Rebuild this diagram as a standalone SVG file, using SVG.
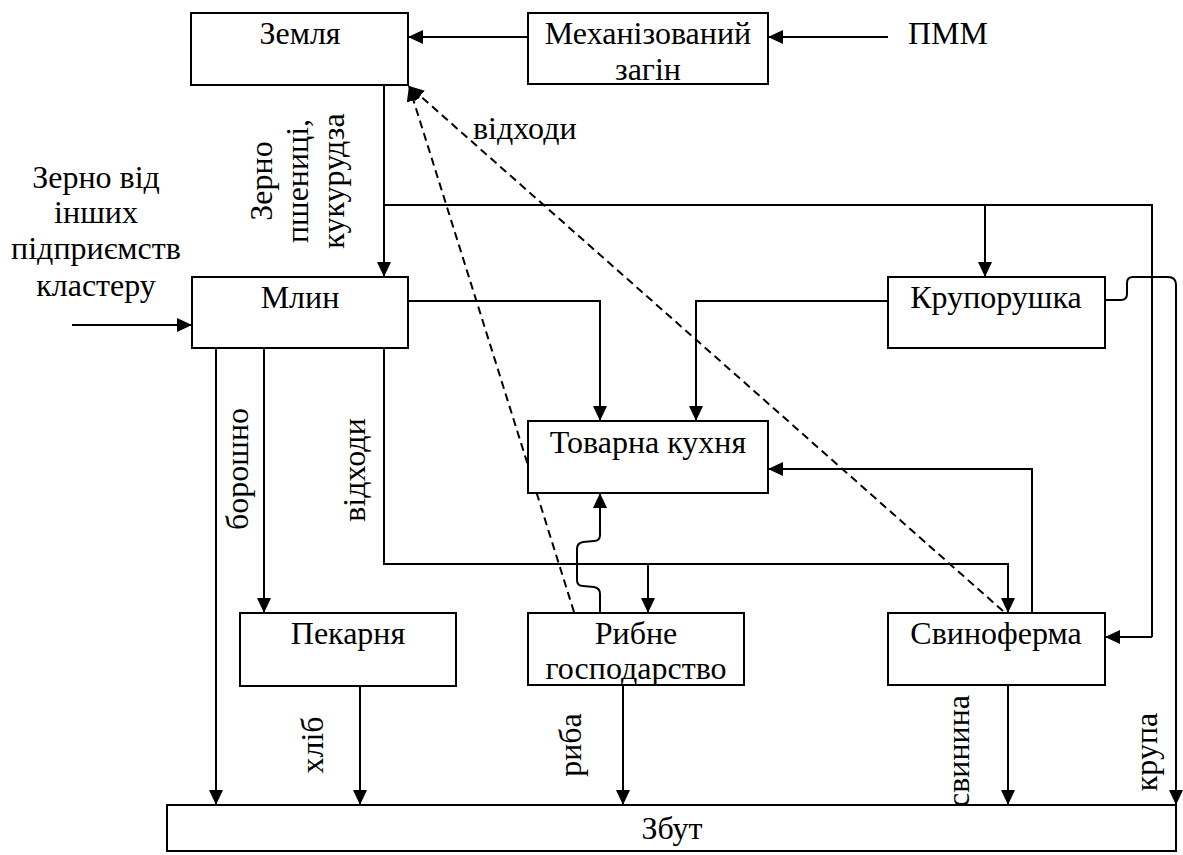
<svg xmlns="http://www.w3.org/2000/svg" width="1183" height="855" viewBox="0 0 1183 855" font-family="Liberation Serif, serif" font-size="32">
<style>
.box{fill:#fff;stroke:#000;stroke-width:2}
.ln{fill:none;stroke:#000;stroke-width:2}
.ar{marker-end:url(#ah)}
.ds{fill:none;stroke:#000;stroke-width:2;stroke-dasharray:8,5}
.t{font-family:"Liberation Serif",serif;font-size:32px;fill:#000}
.c{text-anchor:middle}
</style>
<defs>
<marker id="ah" markerUnits="userSpaceOnUse" markerWidth="15" markerHeight="14" refX="15" refY="7" orient="auto">
<path d="M0,0 L15,7 L0,14 z" fill="#000"/>
</marker>
</defs>
<rect width="1183" height="855" fill="#fff"/>
<g id="connectors">
<line class="ln ar" x1="888" y1="37" x2="768" y2="37"/>
<line class="ln ar" x1="528" y1="37" x2="408" y2="37"/>
<line class="ln ar" x1="384" y1="85" x2="384" y2="277"/>
<polyline class="ln" points="384,205 1152,205 1152,637"/>
<line class="ln ar" x1="1152" y1="637" x2="1105" y2="637"/>
<line class="ln ar" x1="985" y1="205" x2="985" y2="277"/>
<line class="ln ar" x1="72" y1="325" x2="192" y2="325"/>
<polyline class="ln ar" points="408,301 600,301 600,421"/>
<polyline class="ln ar" points="888,301 696,301 696,421"/>
<line class="ln ar" x1="216" y1="348" x2="216" y2="805"/>
<line class="ln ar" x1="264" y1="348" x2="264" y2="613"/>
<polyline class="ln ar" points="384,348 384,564 1008,564 1008,613"/>
<line class="ln ar" x1="648" y1="564" x2="648" y2="613"/>
<path class="ln ar" d="M600,613 V594 Q600,588 594,587 L583,586 Q577,586 577,580 V549 Q577,543 583,542 L594,541 Q600,541 600,535 V493"/>
<polyline class="ln ar" points="1032,613 1032,469 768,469"/>
<path class="ln ar" d="M1105,300 H1121 Q1127,300 1127,294 V283 Q1127,277 1133,277 H1168 Q1176,277 1176,285 V805"/>
<line class="ln ar" x1="360" y1="686" x2="360" y2="805"/>
<line class="ln ar" x1="623" y1="685" x2="623" y2="805"/>
<line class="ln ar" x1="1008" y1="685" x2="1008" y2="805"/>
<line class="ds ar" x1="574" y1="612" x2="409" y2="86"/>
<line class="ds ar" x1="1003" y1="611" x2="409" y2="86"/>
</g>
<g id="zemlia"><rect class="box" x="191" y="13" width="217" height="72"/><text class="t c" x="300" y="44">Земля</text></g>
<g id="zagin"><rect class="box" x="528" y="13" width="240" height="71"/><text class="t c" x="648" y="44">Механізований</text><text class="t c" x="648" y="80">загін</text></g>
<g id="pmm"><text class="t" x="908" y="44">ПММ</text></g>
<g id="mlyn"><rect class="box" x="192" y="277" width="216" height="71"/><text class="t c" x="300" y="308">Млин</text></g>
<g id="krupa"><rect class="box" x="888" y="277" width="217" height="71"/><text class="t c" x="996" y="308">Крупорушка</text></g>
<g id="kukhnia"><rect class="box" x="528" y="421" width="240" height="72"/><text class="t c" x="648" y="453">Товарна кухня</text></g>
<g id="pekarnia"><rect class="box" x="240" y="613" width="216" height="73"/><text class="t c" x="348" y="644">Пекарня</text></g>
<g id="rybne"><rect class="box" x="528" y="613" width="216" height="72"/><text class="t c" x="636" y="644">Рибне</text><text class="t c" x="636" y="679">господарство</text></g>
<g id="svynoferma"><rect class="box" x="888" y="613" width="217" height="72"/><text class="t c" x="996" y="644">Свиноферма</text></g>
<g id="zbut"><rect class="box" x="167" y="805" width="1009" height="46"/><text class="t c" x="672" y="839">Збут</text></g>
<g id="labels">
<text class="t c" x="96" y="188">Зерно від</text>
<text class="t c" x="96" y="223">інших</text>
<text class="t c" x="96" y="259">підприємств</text>
<text class="t c" x="96" y="296">кластеру</text>
<text class="t" x="473" y="139">відходи</text>
<text class="t c" transform="translate(272,181) rotate(-90)">Зерно</text>
<text class="t c" transform="translate(308,181) rotate(-90)">пшениці,</text>
<text class="t c" transform="translate(344,181) rotate(-90)">кукурудза</text>
<text class="t c" transform="translate(248,469) rotate(-90)">борошно</text>
<text class="t c" transform="translate(365,470) rotate(-90)">відходи</text>
<text class="t c" transform="translate(323,745) rotate(-90)">хліб</text>
<text class="t c" transform="translate(581,745) rotate(-90)">риба</text>
<text class="t c" transform="translate(969,751) rotate(-90)">свинина</text>
<text class="t c" transform="translate(1157,752) rotate(-90)">крупа</text>
</g>
</svg>
